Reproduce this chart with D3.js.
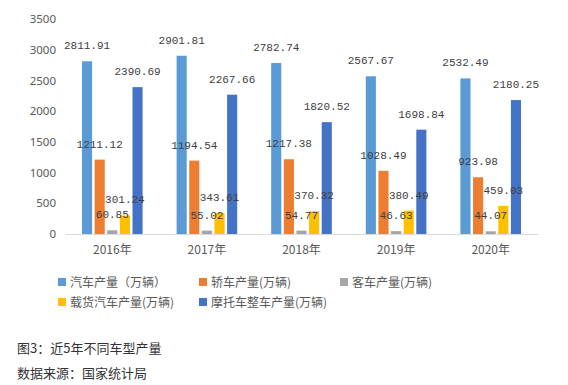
<!DOCTYPE html>
<html>
<head>
<meta charset="utf-8">
<script src="https://cdn.jsdelivr.net/npm/d3@7"></script>
<style>
  body { margin: 0; background: #fff; }
  svg { display: block; }
  .tick text { fill: #595959; }
</style>
</head>
<body>
<svg id="chart" width="568" height="385"></svg>
<script>
const years = ['2016年', '2017年', '2018年', '2019年', '2020年']
const seriesNames = ['汽车产量（万辆）', '轿车产量(万辆)', '客车产量(万辆)', '载货汽车产量(万辆)', '摩托车整车产量(万辆)']
const colors = ['#5B9BD5', '#ED7D31', '#A5A5A5', '#FFC000', '#4472C4']

const autoOutput = [2811.91, 2901.81, 2782.74, 2567.67, 2532.49]
const sedanOutput = [1211.12, 1194.54, 1217.38, 1028.49, 923.98]
const busOutput = [60.85, 55.02, 54.77, 46.63, 44.07]
const truckOutput = [301.24, 343.61, 370.32, 380.49, 459.03]
const motoOutput = [2390.69, 2267.66, 1820.52, 1698.84, 2180.25]
const yTicks = [0, 500, 1000, 1500, 2000, 2500, 3000, 3500]

const seriesValues = [autoOutput, sedanOutput, busOutput, truckOutput, motoOutput]

const bars = []
years.forEach((year, i) => {
  seriesValues.forEach((vals, s) => {
    bars.push({ year: year, series: s, value: vals[i] })
  })
})

const svg = d3.select('#chart')

const margin = { left: 65, right: 30, top: 19, bottom: 151 }
const plotBottom = 234

const xScale = d3.scaleBand()
  .domain(years)
  .range([margin.left, 538])
  .paddingInner(0)
  .paddingOuter(0)

const innerScale = d3.scaleBand()
  .domain(d3.range(seriesNames.length))
  .range([17, xScale.bandwidth() - 17])
  .paddingInner(0.2)

const yScale = d3.scaleLinear()
  .domain([0, 3500])
  .range([plotBottom, margin.top])

// y axis labels only
const leftAxis = d3.axisLeft(yScale)
  .tickValues(yTicks)
  .tickFormat(d3.format('d'))
  .tickSize(0)
  .tickPadding(0)

svg.append('g')
  .attr('transform', `translate(56, 0)`)
  .call(leftAxis)
  .call(g => g.select('.domain').remove())
  .selectAll('text')
  .attr('font-family', 'Noto Sans, sans-serif')
  .attr('font-size', '11.5px')

// bars
svg.append('g')
  .selectAll('rect')
  .data(bars)
  .enter()
  .append('rect')
  .attr('x', d => xScale(d.year) + innerScale(d.series))
  .attr('y', d => yScale(d.value))
  .attr('width', innerScale.bandwidth())
  .attr('height', d => plotBottom - yScale(d.value))
  .attr('fill', d => colors[d.series])

// value labels
svg.append('g')
  .selectAll('text')
  .data(bars)
  .enter()
  .append('text')
  .attr('x', d => xScale(d.year) + innerScale(d.series) + innerScale.bandwidth() / 2)
  .attr('y', d => yScale(d.value) - 12)
  .attr('text-anchor', 'middle')
  .attr('font-family', 'Liberation Mono, monospace')
  .attr('font-size', '11px')
  .attr('fill', '#404040')
  .text(d => d.value.toFixed(2))

// x axis
const bottomAxis = d3.axisBottom(xScale)
  .tickSize(0)
  .tickPadding(11)

svg.append('g')
  .attr('transform', `translate(0, ${plotBottom})`)
  .call(bottomAxis)
  .call(g => g.select('.domain').attr('stroke', '#d9d9d9'))
  .selectAll('text')
  .attr('font-family', 'Noto Sans CJK SC, sans-serif')
  .attr('font-size', '12px')

// legend
const legendPos = [[58, 282], [199, 282], [340, 282], [58, 302], [199, 302]]
const legend = svg.append('g')
  .selectAll('g')
  .data(seriesNames)
  .enter()
  .append('g')
  .attr('transform', (d, i) => `translate(${legendPos[i][0]}, ${legendPos[i][1]})`)

legend.append('rect')
  .attr('x', 0)
  .attr('y', -4)
  .attr('width', 8)
  .attr('height', 8)
  .attr('fill', (d, i) => colors[i])

legend.append('text')
  .attr('x', 12)
  .attr('y', 4.5)
  .attr('font-family', 'Noto Sans CJK SC, sans-serif')
  .attr('font-size', '12px')
  .attr('fill', '#595959')
  .text(d => d)

// caption
svg.append('text')
  .attr('x', 17)
  .attr('y', 353)
  .attr('font-family', 'Noto Sans CJK SC, sans-serif')
  .attr('font-size', '13px')
  .attr('fill', '#333')
  .text('图3：近5年不同车型产量')

svg.append('text')
  .attr('x', 17)
  .attr('y', 378)
  .attr('font-family', 'Noto Sans CJK SC, sans-serif')
  .attr('font-size', '13px')
  .attr('fill', '#333')
  .text('数据来源：国家统计局')
</script>
</body>
</html>
